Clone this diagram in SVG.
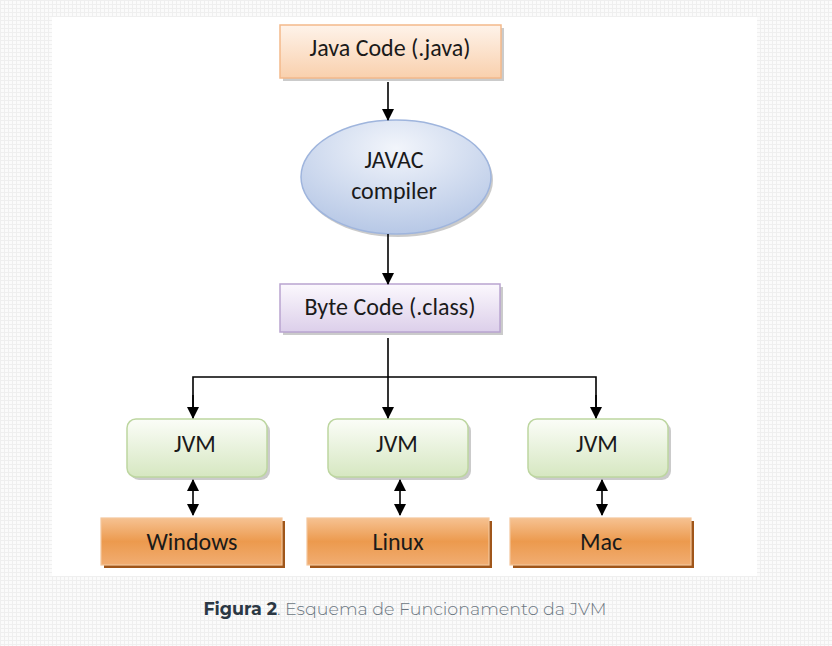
<svg xmlns="http://www.w3.org/2000/svg" width="832" height="646" viewBox="0 0 832 646">
<defs>
<pattern id="bgp" width="4" height="4" patternUnits="userSpaceOnUse">
<rect width="4" height="4" fill="#fbfbfb"/>
<rect width="4" height="1" fill="#efefef"/>
<rect width="1" height="4" fill="#efefef"/>
</pattern>
<linearGradient id="gPeach" x1="0" y1="0" x2="0" y2="1">
<stop offset="0" stop-color="#fef3ea"/>
<stop offset="1" stop-color="#f9d0ad"/>
</linearGradient>
<radialGradient id="gBlue" cx="0.5" cy="0.25" r="0.75">
<stop offset="0" stop-color="#f2f5fb"/>
<stop offset="1" stop-color="#b7c8e6"/>
</radialGradient>
<linearGradient id="gPurple" x1="0" y1="0" x2="0" y2="1">
<stop offset="0" stop-color="#fbf8fd"/>
<stop offset="1" stop-color="#dccfea"/>
</linearGradient>
<linearGradient id="gGreen" x1="0" y1="0" x2="0" y2="1">
<stop offset="0" stop-color="#fbfdf8"/>
<stop offset="1" stop-color="#d6e7c1"/>
</linearGradient>
<linearGradient id="gOrange" x1="0" y1="0" x2="0" y2="1">
<stop offset="0" stop-color="#f6c292"/>
<stop offset="0.5" stop-color="#ec9a4e"/>
<stop offset="1" stop-color="#f1ad72"/>
</linearGradient>
<marker id="ah" markerWidth="12" markerHeight="12" refX="11" refY="6" orient="auto" markerUnits="userSpaceOnUse">
<path d="M0,0 L12,6 L0,12 Z" fill="#000"/>
</marker>
<marker id="as" markerWidth="12" markerHeight="12" refX="1" refY="6" orient="auto" markerUnits="userSpaceOnUse">
<path d="M12,0 L0,6 L12,12 Z" fill="#000"/>
</marker>
</defs>
<style>
.t{font-family:Calibri,Carlito,"Open Sans","Liberation Sans",sans-serif;font-size:24px;fill:#1a1a1a;text-anchor:middle}
.sh{fill:#a9a9a9;opacity:0.6}
.osh{fill:#a0561a}
.ln{stroke:#000;stroke-width:1.6;fill:none}
.cap{font-family:Montserrat,"Noto Sans","Open Sans",sans-serif;font-size:17.5px;text-anchor:middle}
</style>
<rect width="832" height="646" fill="url(#bgp)"/>
<rect x="52" y="17" width="705" height="559" fill="#ffffff"/>

<g id="java-code">
<rect x="283" y="28" width="221" height="53" class="sh"/>
<rect x="280" y="25" width="221" height="53" fill="url(#gPeach)" stroke="#f3b98b" stroke-width="1.5"/>
<text x="390" y="56" class="t">Java Code (.java)</text>
</g>

<g id="javac">
<ellipse cx="398" cy="180" rx="95" ry="57" class="sh"/>
<ellipse cx="396" cy="177" rx="95" ry="57" fill="url(#gBlue)" stroke="#9fb5dd" stroke-width="1.5"/>
<text x="394" y="168" class="t">JAVAC</text>
<text x="394" y="199" class="t">compiler</text>
</g>

<g id="byte-code">
<rect x="283" y="287" width="220" height="48" class="sh"/>
<rect x="280" y="284" width="220" height="48" fill="url(#gPurple)" stroke="#b9a4d0" stroke-width="1.5"/>
<text x="390" y="315" class="t">Byte Code (.class)</text>
</g>

<g id="jvm1">
<rect x="130" y="422" width="140" height="58" rx="9" class="sh"/>
<rect x="127" y="419" width="140" height="58" rx="9" fill="url(#gGreen)" stroke="#bdd6a0" stroke-width="1.5"/>
<text x="195" y="452" class="t">JVM</text>
</g>
<g id="jvm2">
<rect x="331" y="422" width="140" height="58" rx="9" class="sh"/>
<rect x="328" y="419" width="140" height="58" rx="9" fill="url(#gGreen)" stroke="#bdd6a0" stroke-width="1.5"/>
<text x="397" y="452" class="t">JVM</text>
</g>
<g id="jvm3">
<rect x="531" y="422" width="140" height="58" rx="9" class="sh"/>
<rect x="528" y="419" width="140" height="58" rx="9" fill="url(#gGreen)" stroke="#bdd6a0" stroke-width="1.5"/>
<text x="597" y="452" class="t">JVM</text>
</g>

<g id="windows">
<rect x="104" y="521" width="181" height="47" class="osh"/>
<rect x="101" y="518" width="181" height="47" fill="url(#gOrange)" stroke="#f3c69c" stroke-width="1.2"/>
<text x="192" y="550" class="t">Windows</text>
</g>
<g id="linux">
<rect x="310" y="521" width="182" height="47" class="osh"/>
<rect x="307" y="518" width="182" height="47" fill="url(#gOrange)" stroke="#f3c69c" stroke-width="1.2"/>
<text x="398" y="550" class="t">Linux</text>
</g>
<g id="mac">
<rect x="513" y="521" width="181" height="47" class="osh"/>
<rect x="510" y="518" width="181" height="47" fill="url(#gOrange)" stroke="#f3c69c" stroke-width="1.2"/>
<text x="601" y="550" class="t">Mac</text>
</g>

<g id="connectors">
<line x1="388" y1="82" x2="388" y2="120" class="ln" marker-end="url(#ah)"/>
<line x1="388" y1="234" x2="388" y2="284" class="ln" marker-end="url(#ah)"/>
<line x1="388" y1="338" x2="388" y2="418" class="ln" marker-end="url(#ah)"/>
<polyline points="193,410 193,377 596,377 596,410" class="ln"/>
<line x1="193" y1="395" x2="193" y2="418" class="ln" marker-end="url(#ah)"/>
<line x1="596" y1="395" x2="596" y2="418" class="ln" marker-end="url(#ah)"/>
<line x1="193" y1="480" x2="193" y2="515" class="ln" marker-start="url(#as)" marker-end="url(#ah)"/>
<line x1="400" y1="480" x2="400" y2="515" class="ln" marker-start="url(#as)" marker-end="url(#ah)"/>
<line x1="602" y1="480" x2="602" y2="515" class="ln" marker-start="url(#as)" marker-end="url(#ah)"/>
</g>

<text x="405" y="615" class="cap"><tspan font-weight="700" fill="#2b3844">Figura 2</tspan><tspan font-weight="300" fill="#6c7782">. Esquema de Funcionamento da JVM</tspan></text>
</svg>
